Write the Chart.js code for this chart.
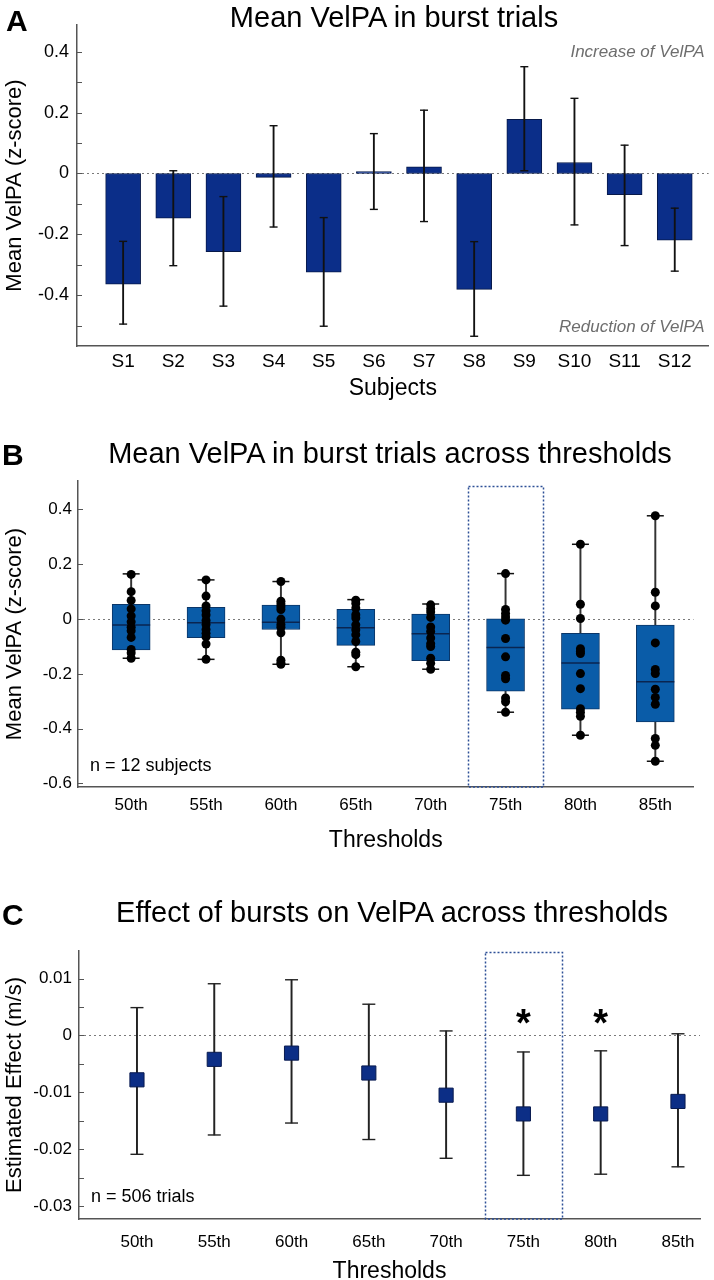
<!DOCTYPE html>
<html><head><meta charset="utf-8">
<script src="https://cdn.jsdelivr.net/npm/chart.js@4.4.1/dist/chart.umd.min.js"></script>
<style>
html,body{margin:0;padding:0;background:#fff;width:714px;height:1280px;overflow:hidden;font-family:"Liberation Sans",Arial,Helvetica,sans-serif;}
.panel{position:absolute;left:0;width:714px;}
.lbl{position:absolute;line-height:1;white-space:nowrap;color:#000;}
.letter{font-weight:bold;font-size:30px;}
.title{font-size:29px;transform:translateX(-50%);}
canvas{display:block;}
</style></head><body>
<div class="panel" style="top:0;height:402px"><canvas id="cA" width="714" height="402"></canvas></div>
<div class="panel" style="top:430px;height:424px"><canvas id="cB" width="714" height="424"></canvas></div>
<div class="panel" style="top:900px;height:385px"><canvas id="cC" width="714" height="385"></canvas></div>
<div class="lbl letter" style="left:6px;top:6px">A</div>
<div class="lbl title" style="left:394px;top:3px">Mean VelPA in burst trials</div>
<div class="lbl letter" style="left:2px;top:440px">B</div>
<div class="lbl title" style="left:390px;top:439px">Mean VelPA in burst trials across thresholds</div>
<div class="lbl letter" style="left:2px;top:900px">C</div>
<div class="lbl title" style="left:392px;top:898px">Effect of bursts on VelPA across thresholds</div>
<script>
// ---------- Panel A data ----------
const subjects = ['S1','S2','S3','S4','S5','S6','S7','S8','S9','S10','S11','S12'];
const meanVelPA = [-0.364, -0.147, -0.257, -0.013, -0.324, 0.006, 0.022, -0.381, 0.178, 0.036, -0.070, -0.219];
const errUpper  = [-0.223, 0.009, -0.076, 0.157, -0.145, 0.131, 0.208, -0.224, 0.351, 0.247, 0.093, -0.114];
const errLower  = [-0.495, -0.303, -0.436, -0.176, -0.502, -0.118, -0.158, -0.535, 0.009, -0.169, -0.237, -0.321];

// ---------- Panel B data ----------
const thresholds = ['50th','55th','60th','65th','70th','75th','80th','85th'];
const boxMin    = [-0.143, -0.147, -0.165, -0.174, -0.183, -0.340, -0.424, -0.519];
const boxQ1     = [-0.113, -0.068, -0.038, -0.096, -0.152, -0.263, -0.329, -0.375];
const boxMedian = [-0.022, -0.013, -0.012, -0.032, -0.054, -0.104, -0.160, -0.229];
const boxQ3     = [0.054, 0.043, 0.051, 0.036, 0.018, 0.001, -0.052, -0.022];
const boxMax    = [0.165, 0.143, 0.137, 0.071, 0.055, 0.166, 0.273, 0.377];
const pts50 = [0.163, 0.100, 0.068, 0.037, 0.011, -0.010, -0.030, -0.043, -0.067, -0.111, -0.124, -0.143];
const pts55 = [0.143, 0.084, 0.048, 0.030, 0.015, -0.005, -0.020, -0.038, -0.052, -0.065, -0.091, -0.147];
const pts60 = [0.137, 0.065, 0.055, 0.045, 0.035, 0.000, -0.020, -0.030, -0.050, -0.150, -0.160, -0.165];
const pts65 = [0.069, 0.057, 0.040, 0.016, 0.004, -0.021, -0.039, -0.057, -0.082, -0.121, -0.130, -0.174];
const pts70 = [0.052, 0.038, 0.026, 0.006, -0.029, -0.045, -0.069, -0.090, -0.100, -0.143, -0.161, -0.183];
const pts75 = [0.166, 0.035, 0.020, 0.008, -0.004, -0.071, -0.138, -0.206, -0.218, -0.288, -0.302, -0.340];
const pts80 = [0.273, 0.054, 0.002, -0.108, -0.118, -0.126, -0.199, -0.254, -0.327, -0.340, -0.355, -0.424];
const pts85 = [0.377, 0.098, 0.048, -0.087, -0.184, -0.199, -0.256, -0.286, -0.311, -0.436, -0.461, -0.519];
const subjectPoints = [pts50, pts55, pts60, pts65, pts70, pts75, pts80, pts85];
const highlightThreshold = '75th';

// ---------- Panel C data ----------
const effectEstimate = [-0.0078, -0.0042, -0.0031, -0.0066, -0.0105, -0.0138, -0.0138, -0.0116];
const effectCIHigh   = [0.0049, 0.0091, 0.0098, 0.0055, 0.0008, -0.0029, -0.0027, 0.0003];
const effectCILow    = [-0.0209, -0.0175, -0.0154, -0.0183, -0.0216, -0.0246, -0.0244, -0.0231];
const significant    = [false, false, false, false, false, true, true, false];

// ---------- common ----------
const FONT = '"Liberation Sans", Arial, Helvetica, sans-serif';
Chart.defaults.font.family = FONT;
Chart.defaults.color = '#000';
const AXIS = '#555';

const helpers = {
  id: 'helpers',
  beforeDatasetsDraw(chart, args, o) {
    const ctx = chart.ctx, a = chart.chartArea, y = chart.scales.y, x = chart.scales.x;
    ctx.save();
    const py = Math.round(y.getPixelForValue(0)) + 0.5;
    ctx.strokeStyle = '#7a7a7a'; ctx.lineWidth = 1; ctx.setLineDash([2, 3]);
    ctx.beginPath(); ctx.moveTo(a.left, py); ctx.lineTo(a.right, py); ctx.stroke();
    if (o.highlight !== undefined && o.highlight >= 0) {
      const x0 = Math.round(x.getPixelForValue(o.highlight - 0.5)) + 0.5;
      const x1 = Math.round(x.getPixelForValue(o.highlight + 0.5)) + 0.5;
      const t = a.top + (o.hlTop || 0) + 0.5;
      ctx.strokeStyle = '#2d4f96'; ctx.lineWidth = 1.5; ctx.setLineDash([2, 2]);
      ctx.strokeRect(x0, t, x1 - x0, a.bottom - t);
    }
    ctx.restore();
  },
  afterDatasetsDraw(chart, args, o) {
    const ctx = chart.ctx, a = chart.chartArea, y = chart.scales.y, x = chart.scales.x;
    ctx.save();
    ctx.strokeStyle = AXIS; ctx.lineWidth = 1;
    y.ticks.forEach(t => {
      const p = Math.round(y.getPixelForValue(t.value)) + 0.5;
      ctx.beginPath(); ctx.moveTo(a.left, p); ctx.lineTo(a.left + 5, p); ctx.stroke();
    });
    (o.notes || []).forEach(n => {
      ctx.font = n.font; ctx.fillStyle = n.color; ctx.textAlign = n.align; ctx.textBaseline = 'middle';
      const px = n.align === 'right' ? a.right - n.dx : a.left + n.dx;
      const pyy = n.fromTop !== undefined ? a.top + n.fromTop : a.bottom - n.fromBottom;
      ctx.fillText(n.text, px, pyy);
    });
    if (o.stars) {
      ctx.font = 'bold 38px ' + FONT; ctx.fillStyle = '#000'; ctx.textAlign = 'center'; ctx.textBaseline = 'alphabetic';
      o.stars.forEach((s, i) => {
        if (s) ctx.fillText('*', x.getPixelForValue(i), y.getPixelForValue(o.starValue) + 19);
      });
    }
    ctx.restore();
  }
};

function yAxis(min, max, step, labelFn, title, width, pad, fsize) {
  return {
    type: 'linear', min, max,
    grid: { display: false, drawTicks: false, tickLength: 0 }, border: { display: true, color: AXIS, width: 1.5 },
    ticks: { stepSize: step, includeBounds: false, padding: pad, font: { size: fsize }, color: '#000', callback: labelFn },
    title: { display: true, text: title, font: { size: 22 }, color: '#000', padding: { top: 2, bottom: 0 } },
    afterFit: s => { s.width = width; }
  };
}
function xAxis(min, max, labels, title, height, pad, fsize) {
  return {
    type: 'linear', min, max, offset: false,
    grid: { display: false, drawTicks: false, tickLength: 0 }, border: { display: true, color: AXIS, width: 1.5 },
    ticks: { stepSize: 1, includeBounds: false, autoSkip: false, maxRotation: 0, padding: pad, font: { size: fsize }, color: '#000',
             callback: v => (Number.isInteger(v) && labels[v] !== undefined) ? labels[v] : '' },
    title: { display: true, text: title, font: { size: 23 }, color: '#000', padding: { top: 0, bottom: 0 } },
    afterFit: s => { s.height = height; }
  };
}
const baseOpts = {
  responsive: false, animation: false, events: [],
  plugins: { legend: { display: false }, tooltip: { enabled: false } }
};
function scatterDS(data, extra) {
  return Object.assign({ type: 'scatter', data, showLine: false, clip: false,
    pointHoverRadius: 0 }, extra);
}

// ---------- Panel A ----------
const idxA = subjects.map((_, i) => i);
new Chart(document.getElementById('cA'), {
  type: 'bar',
  data: { datasets: [
    scatterDS(idxA.map(i => ({ x: i, y: errUpper[i] })), { pointStyle: 'line', pointRadius: 4, pointBorderColor: '#111', pointBorderWidth: 1.4, order: 0 }),
    scatterDS(idxA.map(i => ({ x: i, y: errLower[i] })), { pointStyle: 'line', pointRadius: 4, pointBorderColor: '#111', pointBorderWidth: 1.4, order: 0 }),
    { type: 'bar', data: idxA.map(i => ({ x: i, y: [errLower[i], errUpper[i]] })), barThickness: 1.2, backgroundColor: '#111', borderWidth: 0, grouped: false, order: 1 },
    { type: 'bar', data: idxA.map(i => ({ x: i, y: meanVelPA[i] })), barThickness: 35, backgroundColor: '#0b2e89', borderColor: '#07194a', borderWidth: 1, borderSkipped: false, grouped: false, order: 2 }
  ]},
  options: Object.assign({}, baseOpts, {
    layout: { padding: { top: 25, right: 3, left: 0, bottom: 0 } },
    plugins: Object.assign({}, baseOpts.plugins, { helpers: {
      notes: [
        { text: 'Increase of VelPA', font: 'italic 17px ' + FONT, color: '#6e6e6e', align: 'right', dx: 4, fromTop: 27 },
        { text: 'Reduction of VelPA', font: 'italic 17px ' + FONT, color: '#6e6e6e', align: 'right', dx: 4, fromBottom: 19 }
      ] } }),
    scales: {
      x: xAxis(-0.92, 11.675, subjects, 'Subjects', 56, 4, 19),
      y: yAxis(-0.567, 0.488, 0.1, v => { const k = Math.round(v * 10); if (k % 2 !== 0) return ''; return k === 0 ? '0' : (k / 10).toFixed(1); }, 'Mean VelPA (z-score)', 77, 8, 18)
    }
  }),
  plugins: [helpers]
});

// ---------- Panel B ----------
const idxT = thresholds.map((_, i) => i);
const dots = [];
subjectPoints.forEach((arr, i) => arr.forEach(v => dots.push({ x: i, y: v })));
new Chart(document.getElementById('cB'), {
  type: 'bar',
  data: { datasets: [
    scatterDS(dots, { pointStyle: 'circle', pointRadius: 4.5, pointBackgroundColor: '#000', pointBorderWidth: 0, order: 0 }),
    scatterDS(idxT.map(i => ({ x: i, y: boxMax[i] })), { pointStyle: 'line', pointRadius: 8.5, pointBorderColor: '#111', pointBorderWidth: 1.5, order: 1 }),
    scatterDS(idxT.map(i => ({ x: i, y: boxMin[i] })), { pointStyle: 'line', pointRadius: 8.5, pointBorderColor: '#111', pointBorderWidth: 1.5, order: 1 }),
    scatterDS(idxT.map(i => ({ x: i, y: boxMedian[i] })), { pointStyle: 'line', pointRadius: 19, pointBorderColor: '#0a2550', pointBorderWidth: 1.5, order: 2 }),
    { type: 'bar', data: idxT.map(i => ({ x: i, y: [boxQ1[i], boxQ3[i]] })), barThickness: 38, backgroundColor: '#0a5ca8', borderColor: '#0b3668', borderWidth: 1, borderSkipped: false, grouped: false, order: 3 },
    { type: 'bar', data: idxT.map(i => ({ x: i, y: [boxMin[i], boxMax[i]] })), barThickness: 1.3, backgroundColor: '#333', borderWidth: 0, grouped: false, order: 4 }
  ]},
  options: Object.assign({}, baseOpts, {
    layout: { padding: { top: 51, right: 0, left: 0, bottom: 0 } },
    plugins: Object.assign({}, baseOpts.plugins, { helpers: {
      highlight: thresholds.indexOf(highlightThreshold), hlTop: 5,
      notes: [ { text: 'n = 12 subjects', font: '18px ' + FONT, color: '#000', align: 'left', dx: 12, fromBottom: 21 } ] } }),
    scales: {
      x: xAxis(-0.71, 7.51, thresholds, 'Thresholds', 67, 8, 17),
      y: yAxis(-0.613, 0.504, 0.2, v => { const k = Math.round(v * 10); return k === 0 ? '0' : (k / 10).toFixed(1); }, 'Mean VelPA (z-score)', 78, 6, 17)
    }
  }),
  plugins: [helpers]
});

// ---------- Panel C ----------
new Chart(document.getElementById('cC'), {
  type: 'bar',
  data: { datasets: [
    scatterDS(idxT.map(i => ({ x: i, y: effectEstimate[i] })), { pointStyle: 'rect', pointRadius: 10, pointBackgroundColor: '#0c2e86', pointBorderColor: '#081a4f', pointBorderWidth: 1, order: 0 }),
    scatterDS(idxT.map(i => ({ x: i, y: effectCIHigh[i] })), { pointStyle: 'line', pointRadius: 6.5, pointBorderColor: '#222', pointBorderWidth: 1.4, order: 1 }),
    scatterDS(idxT.map(i => ({ x: i, y: effectCILow[i] })), { pointStyle: 'line', pointRadius: 6.5, pointBorderColor: '#222', pointBorderWidth: 1.4, order: 1 }),
    { type: 'bar', data: idxT.map(i => ({ x: i, y: [effectCILow[i], effectCIHigh[i]] })), barThickness: 1.3, backgroundColor: '#222', borderWidth: 0, grouped: false, order: 2 }
  ]},
  options: Object.assign({}, baseOpts, {
    layout: { padding: { top: 51, right: 14, left: 0, bottom: 0 } },
    plugins: Object.assign({}, baseOpts.plugins, { helpers: {
      highlight: thresholds.indexOf(highlightThreshold), hlTop: 1,
      stars: significant, starValue: 0.0032,
      notes: [ { text: 'n = 506 trials', font: '18px ' + FONT, color: '#000', align: 'left', dx: 12, fromBottom: 22 } ] } }),
    scales: {
      x: xAxis(-0.75, 7.285, thresholds, 'Thresholds', 66, 13, 17),
      y: yAxis(-0.03228, 0.01486, 0.005, v => { const k = Math.round(v * 200); if (k % 2 !== 0) return ''; return k === 0 ? '0' : (k / 200).toFixed(2); }, 'Estimated Effect (m/s)', 79, 7, 17)
    }
  }),
  plugins: [helpers]
});
</script>
</body></html>
